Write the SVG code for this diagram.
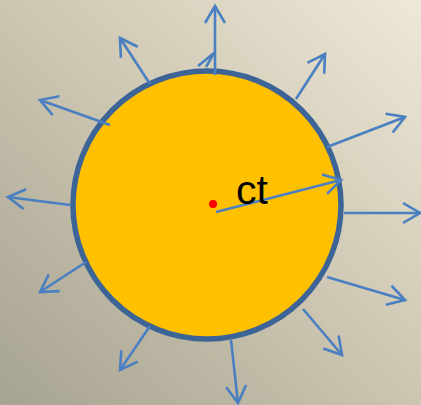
<svg xmlns="http://www.w3.org/2000/svg" width="421" height="405" viewBox="0 0 421 405">
<defs>
<linearGradient id="bg" x1="0" y1="1" x2="1" y2="0">
<stop offset="0" stop-color="#A6A390"/>
<stop offset="0.5" stop-color="#CBC5B1"/>
<stop offset="1" stop-color="#EEE9D7"/>
</linearGradient>
<marker id="ah" markerUnits="userSpaceOnUse" markerWidth="26" markerHeight="26" viewBox="-22 -13 26 26" refX="0" refY="0" orient="auto">
<path d="M-17,-10 L0,0 L-17,10" fill="none" stroke="#4A7FC1" stroke-width="2.6"/>
</marker>
</defs>
<style>
.ray{stroke:#4A7FC1;stroke-width:2.6;fill:none;marker-end:url(#ah)}
</style>
<rect width="421" height="405" fill="url(#bg)"/>
<g id="sun">
<circle cx="207" cy="205" r="134" fill="#FFC000" stroke="#3C6496" stroke-width="5.5"/>
</g>
<g id="connectors">
<line class="ray" x1="215" y1="75" x2="215" y2="6"/>
<line class="ray" x1="150" y1="84" x2="120" y2="38"/>
<line class="ray" x1="110" y1="125" x2="40" y2="100"/>
<line class="ray" x1="70" y1="205" x2="8" y2="197"/>
<line class="ray" x1="86" y1="262" x2="40" y2="292"/>
<line class="ray" x1="150" y1="326" x2="120" y2="370"/>
<line class="ray" x1="231" y1="340" x2="238" y2="403"/>
<line class="ray" x1="303" y1="309" x2="342" y2="355"/>
<line class="ray" x1="327" y1="277" x2="405" y2="300"/>
<line class="ray" x1="344" y1="213" x2="420" y2="213"/>
<line class="ray" x1="327" y1="147" x2="405" y2="117"/>
<line class="ray" x1="296" y1="99" x2="325" y2="54"/>
<line class="ray" x1="216" y1="212" x2="341" y2="180"/>
<path d="M198,66 L214,53 L206,67" fill="none" stroke="#4A7FC1" stroke-width="2.6"/>
</g>
<g id="center">
<circle cx="213" cy="204" r="4" fill="#FF0000"/>
<text x="236" y="204" font-family="Liberation Sans, Arial, sans-serif" font-size="41" fill="#000">ct</text>
</g>
</svg>
